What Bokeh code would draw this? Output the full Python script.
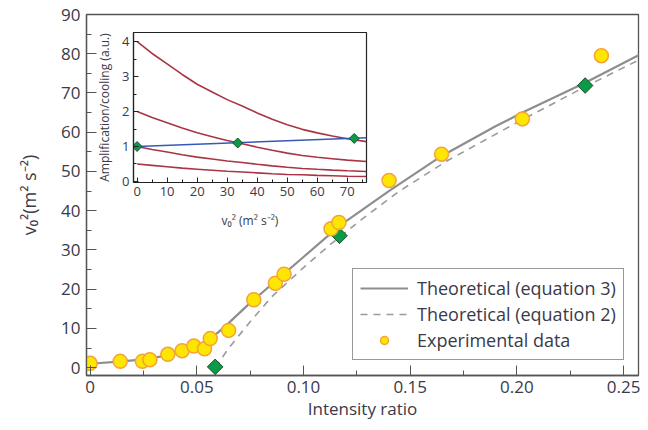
from bokeh.plotting import figure
from bokeh.models import FixedTicker, Legend, LegendItem, Range1d
from bokeh.layouts import column
from bokeh.embed import file_html
from bokeh.resources import INLINE

# ---------------- data ----------------
x_ticks = [0, 0.05, 0.10, 0.15, 0.20, 0.25]
x_tick_labels = ["0", "0.05", "0.10", "0.15", "0.20", "0.25"]
y_ticks = [0, 10, 20, 30, 40, 50, 60, 70, 80, 90]

exp_x = [0.0, 0.0141, 0.0245, 0.028, 0.0364, 0.0431, 0.0486, 0.0536, 0.0563, 0.0649, 0.0767,
         0.0868, 0.0909, 0.1129, 0.1166, 0.1401, 0.1647, 0.2026, 0.2396]
exp_y = [1.1, 1.6, 1.6, 2.0, 3.4, 4.3, 5.5, 4.8, 7.4, 9.5, 17.3, 21.5, 23.8, 35.4, 37.0,
         47.7, 54.4, 63.4, 79.5]

diam_x = [0.0586, 0.1169, 0.232]
diam_y = [0.2, 33.6, 71.9]

eq3_x = [0.0, 0.015, 0.025, 0.035, 0.045, 0.05, 0.055, 0.06, 0.065, 0.075, 0.09, 0.1,
         0.117, 0.14, 0.1637, 0.19, 0.2026, 0.232, 0.259]
eq3_y = [1.0, 1.6, 2.1, 3.0, 4.4, 5.5, 7.0, 9.0, 11.4, 16.5, 23.5, 28.2,
         36.2, 45.0, 53.6, 61.5, 65.0, 72.6, 80.2]

eq2_x = [0.0586, 0.065, 0.075, 0.085, 0.1, 0.1124, 0.128, 0.145, 0.1669, 0.1995, 0.232, 0.259]
eq2_y = [0.0, 5.0, 11.7, 18.0, 25.5, 31.3, 38.1, 45.0, 52.6, 62.3, 71.6, 78.9]

# inset
in_x = [0, 5, 10, 15, 20, 25, 30, 35, 40, 45, 50, 55, 60, 65, 70, 76.4]
curve_a = [4.0, 3.66, 3.36, 3.06, 2.78, 2.56, 2.34, 2.16, 1.96, 1.78, 1.62, 1.49, 1.39, 1.30, 1.22, 1.14]
curve_b = [2.0, 1.83, 1.68, 1.53, 1.39, 1.28, 1.17, 1.08, 0.98, 0.89, 0.81, 0.74, 0.69, 0.65, 0.61, 0.57]
curve_c = [1.0, 0.915, 0.84, 0.765, 0.695, 0.64, 0.585, 0.54, 0.49, 0.445, 0.405, 0.372, 0.347, 0.325, 0.305, 0.285]
curve_d = [0.5, 0.46, 0.42, 0.38, 0.35, 0.32, 0.29, 0.27, 0.245, 0.22, 0.20, 0.19, 0.175, 0.165, 0.15, 0.14]
blue_x = [0, 76.4]
blue_y = [1.0, 1.25]
in_pts_x = [0, 33.5, 72.3]
in_pts_y = [1.0, 1.1, 1.23]
in_x_ticks = [0, 10, 20, 30, 40, 50, 60, 70]
in_y_ticks = [0, 1, 2, 3, 4]

FONT = "Open Sans"
TXT = "#3a3a48"
AX = "#555555"
ROT = 0.7853981634

# ---------------- main figure ----------------
p = figure(width=640, height=422, output_backend="svg", toolbar_location=None,
           x_range=Range1d(-0.0017, 0.257), y_range=Range1d(-2, 90),
           min_border_left=86, min_border_right=2, min_border_top=14, min_border_bottom=46)
p.background_fill_color = "white"
p.border_fill_color = "white"
p.grid.visible = False
p.outline_line_color = AX
p.outline_line_width = 1.3
p.outline_line_alpha = 1.0

p.xaxis.ticker = FixedTicker(ticks=x_ticks, minor_ticks=[0.025, 0.075, 0.125, 0.175, 0.225])
p.xaxis.major_label_overrides = {t: l for t, l in zip(x_ticks, x_tick_labels)}
p.yaxis.ticker = FixedTicker(ticks=y_ticks, minor_ticks=[5, 15, 25, 35, 45, 55, 65, 75, 85])
for ax in (p.xaxis[0], p.yaxis[0]):
    ax.axis_line_color = AX
    ax.axis_line_width = 1.3
    ax.major_tick_line_color = AX
    ax.minor_tick_line_color = AX
    ax.major_tick_in = 10
    ax.major_tick_out = 0
    ax.minor_tick_in = 5
    ax.minor_tick_out = 0
    ax.major_label_text_font = FONT
    ax.major_label_text_font_size = "17px"
    ax.major_label_text_color = TXT
    ax.axis_label_text_font = FONT
    ax.axis_label_text_font_style = "normal"
    ax.axis_label_text_color = TXT
    ax.axis_label_text_font_size = "17px"
p.xaxis.major_label_standoff = 5
p.yaxis.major_label_standoff = 6
p.xaxis.axis_label = "Intensity ratio"
p.xaxis.axis_label_standoff = 1
p.yaxis.axis_label = "v\u2080\u00b2(m\u00b2 s\u207b\u00b2)"
p.yaxis.axis_label_text_font_size = "18px"
p.yaxis.axis_label_standoff = 17

r_eq3 = p.line(eq3_x, eq3_y, line_color="#8e8e8e", line_width=2.2)
r_eq2 = p.line(eq2_x, eq2_y, line_color="#9a9a9a", line_width=1.6, line_dash="7 6")
p.scatter(diam_x, diam_y, marker="square", angle=ROT, size=11, fill_color="#0b9a48",
          line_color="#1d4d2c", line_width=1)
r_exp = p.scatter(exp_x, exp_y, marker="circle", size=14, fill_color="#ffe600",
                  line_color="#f4a23a", line_width=1.5)

legend = Legend(items=[LegendItem(label="Theoretical (equation 3)", renderers=[r_eq3]),
                       LegendItem(label="Theoretical (equation 2)", renderers=[r_eq2]),
                       LegendItem(label="Experimental data", renderers=[r_exp])],
                location=(266, 15))
legend.margin = 0
legend.padding = 7
legend.spacing = 2
legend.glyph_width = 48
legend.glyph_height = 20
legend.label_height = 20
legend.label_standoff = 9
legend.label_text_font = FONT
legend.label_text_font_size = "18px"
legend.label_text_color = TXT
legend.border_line_color = "#333333"
legend.border_line_width = 1.2
legend.background_fill_alpha = 1.0
p.add_layout(legend)

# ---------------- inset figure ----------------
q = figure(width=321, height=202, output_backend="svg", toolbar_location=None,
           x_range=Range1d(-1.2, 76.4), y_range=Range1d(-0.03, 4.26),
           min_border_left=86, min_border_right=2, min_border_top=2, min_border_bottom=50,
           styles={"position": "absolute", "left": "47px", "top": "30px"})
q.grid.visible = False
q.background_fill_color = "white"
q.border_fill_alpha = 0.0
q.outline_line_color = "#222222"
q.outline_line_width = 1.2
q.outline_line_alpha = 1.0
q.xaxis.ticker = FixedTicker(ticks=in_x_ticks, minor_ticks=[5, 15, 25, 35, 45, 55, 65, 75])
q.yaxis.ticker = FixedTicker(ticks=in_y_ticks, minor_ticks=[0.5, 1.5, 2.5, 3.5])
for ax in (q.xaxis[0], q.yaxis[0]):
    ax.axis_line_color = "#222222"
    ax.axis_line_width = 1.2
    ax.major_tick_line_color = "#222222"
    ax.minor_tick_line_color = "#222222"
    ax.major_tick_in = 5
    ax.major_tick_out = 0
    ax.minor_tick_in = 3
    ax.minor_tick_out = 0
    ax.major_label_text_font = FONT
    ax.major_label_text_font_size = "13px"
    ax.major_label_text_color = TXT
    ax.axis_label_text_font = FONT
    ax.axis_label_text_font_style = "normal"
    ax.axis_label_text_color = TXT
    ax.axis_label_text_font_size = "12px"
q.xaxis.major_label_standoff = 4
q.yaxis.major_label_standoff = 4
q.xaxis.axis_label = "v\u2080\u00b2 (m\u00b2 s\u207b\u00b2)"
q.xaxis.axis_label_standoff = 13
q.yaxis.axis_label = "Amplification/cooling (a.u.)"
q.yaxis.axis_label_standoff = 6

RED = "#9e1f2f"
for c in (curve_a, curve_b, curve_c, curve_d):
    q.line(in_x, c, line_color=RED, line_width=1.6, line_alpha=0.9)
q.line(blue_x, blue_y, line_color="#3658b8", line_width=1.5)
q.scatter(in_pts_x, in_pts_y, marker="square", angle=ROT, size=7, fill_color="#0b9a48",
          line_color="#1d4d2c", line_width=1)

layout = column(p, q, styles={"position": "relative"})
open("out.html", "w").write(file_html(layout, INLINE))
